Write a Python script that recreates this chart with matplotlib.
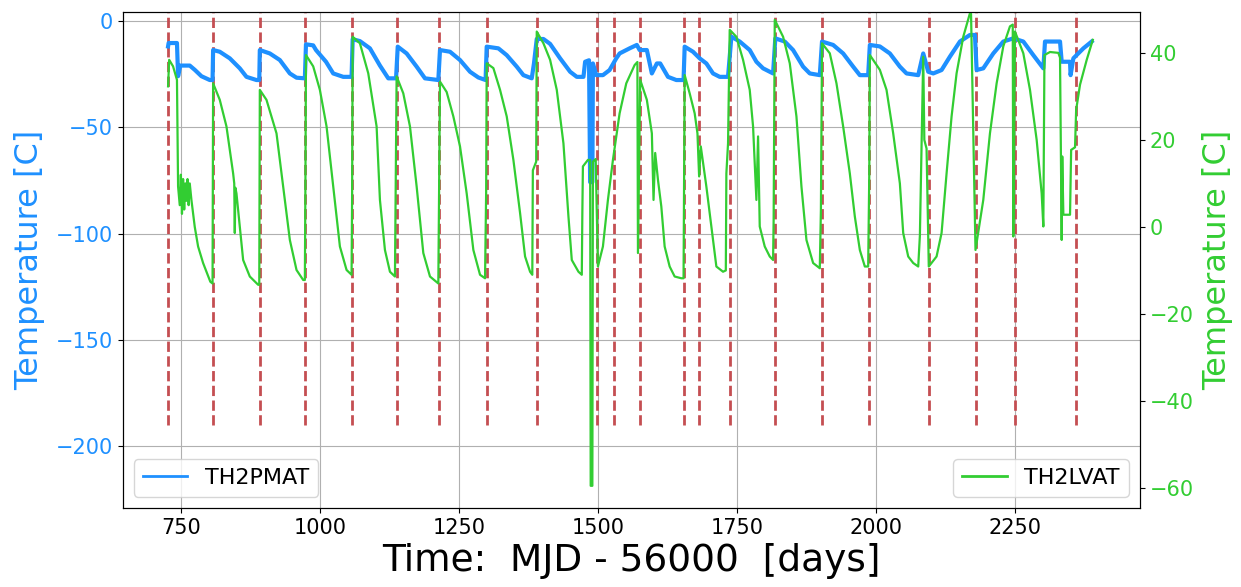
# -*- coding: utf-8 -*-

import numpy as np
import matplotlib
matplotlib.use('Agg')
import matplotlib.pyplot as plt


# ---------------------------- data ---------------------------- #

# TH2PMAT (left axis)
t_pmat = [727, 728, 743, 745, 749, 766, 775, 787, 802, 807,
          808, 820, 838, 856, 868, 886, 891,
          892, 910, 928, 946, 958, 973,
          975, 988, 993, 1011, 1024, 1042, 1057,
          1059, 1072, 1090, 1108, 1123, 1137,
          1140, 1156, 1174, 1189, 1213,
          1216, 1234, 1252, 1270, 1285, 1298,
          1300, 1321, 1336, 1354, 1366, 1381, 1385,
          1390, 1402, 1414, 1432, 1450, 1462, 1474, 1477, 1484,
          1486, 1490, 1491, 1497, 1509, 1521, 1533, 1539, 1557, 1570,
          1575, 1588, 1597, 1606, 1612, 1626, 1641, 1654,
          1656, 1671, 1683, 1695, 1707, 1719, 1734,
          1740, 1755, 1773, 1785, 1797, 1815,
          1819, 1836, 1851, 1869, 1881, 1899,
          1903, 1923, 1941, 1959, 1971, 1986,
          1989, 2007, 2025, 2043, 2055, 2076, 2085, 2094,
          2103, 2118, 2133, 2151, 2169, 2178,
          2181, 2193, 2211, 2229, 2247, 2265, 2283, 2301,
          2304, 2331, 2334, 2349, 2350, 2355, 2373, 2388]
pmat = [-12, -10.4, -10.4, -26, -21, -21, -23, -26, -27.8, -27.8,
        -13.7, -14.5, -17.6, -22.3, -26.3, -27.8, -27.8,
        -13.7, -15.3, -18.4, -24.7, -26.7, -27,
        -11, -11.5, -13.7, -19.2, -24.7, -26.3, -26.3,
        -8.6, -9.5, -12.9, -21, -27, -27,
        -12.1, -15.3, -21.5, -27, -27.8,
        -13.7, -14.5, -18.4, -23.9, -26.6, -27.8,
        -12.1, -12.9, -16.1, -21.5, -25.5, -27, -20,
        -8.5, -8.5, -10.8, -17.6, -23.9, -26.3, -26.3, -19.2, -18.5,
        -75.8, -75.8, -20, -25.5, -25.5, -23.1, -17.6, -15.3, -12.9, -11.3,
        -13.7, -13.7, -24.7, -20, -20, -26.3, -27.8, -27.8,
        -12.1, -14.5, -17.6, -20, -24.7, -26.3, -26.3,
        -7.4, -9.7, -13.7, -19.2, -22.3, -24.7,
        -8.2, -9.7, -13.7, -21.5, -24.7, -25.5,
        -9.7, -11.3, -15.3, -21.5, -25.5, -25.5,
        -11.3, -12, -15.3, -21.5, -24.7, -25.5, -15.3, -23.9,
        -24.7, -23.1, -16.8, -9.7, -6.6, -6.6,
        -23.1, -22.3, -15.3, -9.7, -8.2, -9.7, -16.1, -22.3,
        -9.7, -9.7, -19.2, -19.2, -25.5, -17.6, -12.9, -9.7]

# TH2LVAT (right axis)
t_lvat = [727, 729, 736, 743, 745, 748, 750, 752, 754, 756, 758, 760, 762, 764, 766,
          769, 775, 781, 790, 803, 807,
          808, 820, 832, 844, 846, 847, 848, 850, 856, 862, 874, 889, 891,
          892, 904, 922, 934, 946, 958, 970, 973, 974,
          975, 988, 1000, 1012, 1024, 1036, 1048, 1057, 1058,
          1059, 1072, 1087, 1102, 1108, 1117, 1126, 1135,
          1138, 1150, 1162, 1174, 1186, 1198, 1213,
          1216, 1228, 1240, 1252, 1264, 1276, 1288, 1297, 1299,
          1300, 1312, 1324, 1336, 1348, 1360, 1369, 1378, 1382, 1383, 1389,
          1390, 1402, 1414, 1426, 1438, 1447, 1453, 1465, 1471, 1472, 1473, 1482, 1486,
          1487, 1490, 1491, 1496, 1500, 1509, 1518, 1527, 1539, 1551, 1566, 1571, 1572,
          1576, 1588, 1597, 1600, 1603, 1608, 1614, 1620, 1629, 1638, 1650, 1654,
          1656, 1665, 1674, 1679, 1682, 1685, 1695, 1704, 1713, 1725, 1730, 1731, 1734,
          1737, 1749, 1761, 1773, 1779, 1785, 1788, 1791, 1800, 1809, 1815, 1816,
          1818, 1833, 1845, 1857, 1866, 1875, 1887, 1899, 1901,
          1903, 1917, 1929, 1941, 1953, 1962, 1971, 1980, 1986, 1988,
          1989, 2007, 2019, 2031, 2043, 2049, 2058, 2067, 2076, 2079, 2082, 2085, 2087, 2091,
          2095, 2109, 2118, 2127, 2136, 2145, 2157, 2169, 2171, 2179,
          2193, 2205, 2217, 2229, 2241, 2246, 2247, 2250,
          2265, 2277, 2289, 2298, 2301, 2303, 2313, 2328, 2331, 2334, 2335, 2337, 2349,
          2351, 2358, 2360, 2367, 2379, 2390]
lvat = [32.3, 38.4, 36.9, 33.8, 9.3, 5, 12, 3, 11, 4, 10, 6, 11, 5, 10,
        6.2, 0, -4.5, -8.3, -12.6, -13,
        33, 29.2, 23.1, 12.3, 10, -1.4, 9, 7.7, 0.1, -7.6, -11.4, -13.3, -13.3,
        31.5, 29.2, 21.5, 9.3, -3, -9.9, -12.2, -12.2, 10,
        39.5, 36.9, 31.5, 23.1, 9.3, -4.5, -9.9, -11, 8,
        43.7, 42.2, 35.3, 23.1, 6.2, -5.3, -10.3, -11.4,
        34.6, 30.7, 23.1, 9.3, -6, -11.4, -13,
        33.4, 31, 25.4, 18.5, 7.7, -5.3, -11, -11.8, 8,
        37.6, 36.5, 31.5, 25.4, 15.4, 3.2, -6.8, -10.3, -11, 13, 15,
        44.9, 42.2, 38.4, 31.5, 19.2, 2.4, -7.6, -10.3, -11, 3.2, 13.9, 15.4, 15.4,
        -59.5, -59.5, 15, 15.6, -9.1, -4.5, 6.2, 15.4, 26.1, 33, 37.2, 37.9, -6,
        33.8, 29.2, 21.5, 6.2, 17, 10.8, 4.7, -4.5, -9.1, -11.4, -11.8, -11.8,
        34.9, 30.7, 26.1, 21.5, 11.6, 18.5, 9.3, 0.1, -9.1, -10.3, -10, 12.3, 19.2,
        45.3, 43.7, 38.4, 31.5, 23.1, 6.2, 20.8, 0.1, -4.5, -6.8, -7.6, 1.6,
        47.6, 43.7, 37.6, 25.4, 9.3, -3, -8.3, -9.5, 3.9,
        42.2, 39.9, 33, 23.1, 12.3, 2.4, -5.3, -9.1, -9.1, 12.3,
        39.5, 36.1, 31.5, 21.5, 10, -1.4, -6.8, -8.3, -9.1, -2, 18.5, 39.1, 20, 18,
        -9.1, -6.8, -1.4, 12.3, 25.4, 35.3, 43.7, 49.1, 49, -5.3,
        6.2, 21.5, 33, 41.5, 46.1, 46.5, -2.2, 44.9,
        39.9, 31.5, 20, 7.7, 0.1, 39.5, 40.2, 40, 38.9, -3, 16.2, 2.8, 2.8,
        17.7, 18.3, 26.9, 32.7, 38.4, 43]

# event markers
events = [726, 808, 892, 974, 1058, 1139, 1215, 1300, 1390, 1499, 1529,
          1576, 1655, 1682, 1737, 1818, 1903, 1988, 2095, 2180, 2250, 2360]

xticks = [750, 1000, 1250, 1500, 1750, 2000, 2250]


# ---------------------------- plot ---------------------------- #

blue = '#1e90ff'
green = '#32cd32'

fig = plt.figure(figsize=(12.41, 5.87), dpi=100)
ax = fig.add_subplot(111)
fig.subplots_adjust(left=0.099, right=0.9186, top=0.9796, bottom=0.1346)

ax.vlines(events, -190, 10, colors='#c44e52', linestyles='--', lw=2)
ax.plot(t_pmat, pmat, color=blue, lw=3, label='TH2PMAT')
ax.set_ylim(-229, 4.2)
ax.set_xlim(645.7, 2474.8)
ax.set_xticks(xticks)
ax.grid(True, color='#b0b0b0', lw=0.8)
ax.set_ylabel('Temperature [C]', color=blue, fontsize=23, labelpad=8)
ax.set_xlabel('Time:  MJD - 56000  [days]', fontsize=27, labelpad=4)
ax.tick_params(axis='y', labelcolor=blue, labelsize=15)
ax.tick_params(axis='x', labelsize=15)
leg1 = ax.legend(loc='lower left', fontsize=16)
leg1.get_lines()[0].set_linewidth(2)

ax2 = ax.twinx()
ax2.plot(t_lvat, lvat, color=green, lw=1.6, label='TH2LVAT')
ax2.set_ylim(-64.6, 49.4)
ax2.set_ylabel('Temperature [C]', color=green, fontsize=23, labelpad=6)
ax2.tick_params(axis='y', labelcolor=green, labelsize=15)
leg2 = ax2.legend(loc='lower right', fontsize=16)
leg2.get_lines()[0].set_linewidth(2)

fig.savefig('out.png', dpi=100)
